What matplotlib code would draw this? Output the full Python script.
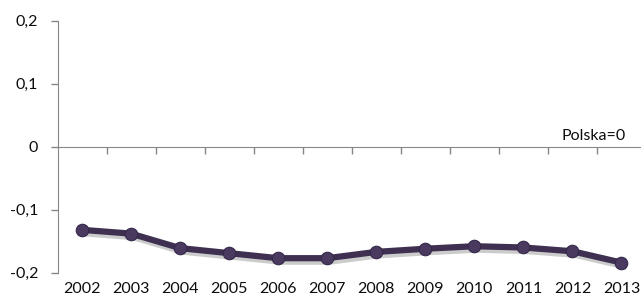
import matplotlib
matplotlib.use('Agg')
import matplotlib.pyplot as plt
import matplotlib.patheffects as pe

# === Data ===
years = ['2002', '2003', '2004', '2005', '2006', '2007',
         '2008', '2009', '2010', '2011', '2012', '2013']
values = [-0.132, -0.138, -0.161, -0.169, -0.177, -0.177,
          -0.167, -0.162, -0.158, -0.160, -0.166, -0.184]
y_ticks = [-0.2, -0.1, 0.0, 0.1, 0.2]
y_labels = ['-0,2', '-0,1', '0', '0,1', '0,2']

LINE = '#3f3052'
AXIS = '#868686'
TXT = '#0d0d0d'
FS = 11.5

plt.rcParams['font.family'] = ['Lato', 'DejaVu Sans']

fig = plt.figure(figsize=(6.41, 3.04), dpi=100)
ax = fig.add_axes([57.5 / 641, 0.103, (646 - 57.5) / 641, 0.829])

x = list(range(len(years)))
shadow = [pe.SimpleLineShadow(offset=(1.5, -2.5), alpha=0.2, shadow_color='k'),
          pe.Normal()]
ax.plot(x, values, color=LINE, linewidth=4.5, solid_joinstyle='round',
        path_effects=shadow, zorder=3)
ax.plot(x, values, 'o', color='#4a3a60', markersize=9,
        markeredgecolor='#35284a', markeredgewidth=0.8, zorder=4)

ax.set_xlim(-0.5, len(years) - 0.5)
ax.set_ylim(-0.2, 0.2)

# y axis
ax.set_yticks(y_ticks)
ax.set_yticklabels(y_labels, fontsize=FS, color=TXT)
ax.tick_params(axis='y', direction='out', length=5, width=1, color=AXIS, pad=9)

# x axis line at zero, ticks between categories
for s in ['top', 'right']:
    ax.spines[s].set_visible(False)
ax.spines['left'].set_color(AXIS)
ax.spines['bottom'].set_color(AXIS)
ax.spines['bottom'].set_position(('data', 0))
ax.set_xticks([i + 0.5 for i in x[:-1]])
ax.set_xticklabels([])
ax.tick_params(axis='x', direction='out', length=5, width=1, color=AXIS)

# category labels at the bottom
sec = ax.secondary_xaxis(0)
sec.spines['bottom'].set_visible(False)
sec.set_xticks(x)
sec.set_xticklabels(years, fontsize=FS, color=TXT)
sec.tick_params(axis='x', length=0, pad=7)

ax.text(0.965, 0.515, 'Polska=0', transform=ax.transAxes, ha='right',
        va='bottom', fontsize=FS, color=TXT)

fig.savefig('out.png', dpi=100)
